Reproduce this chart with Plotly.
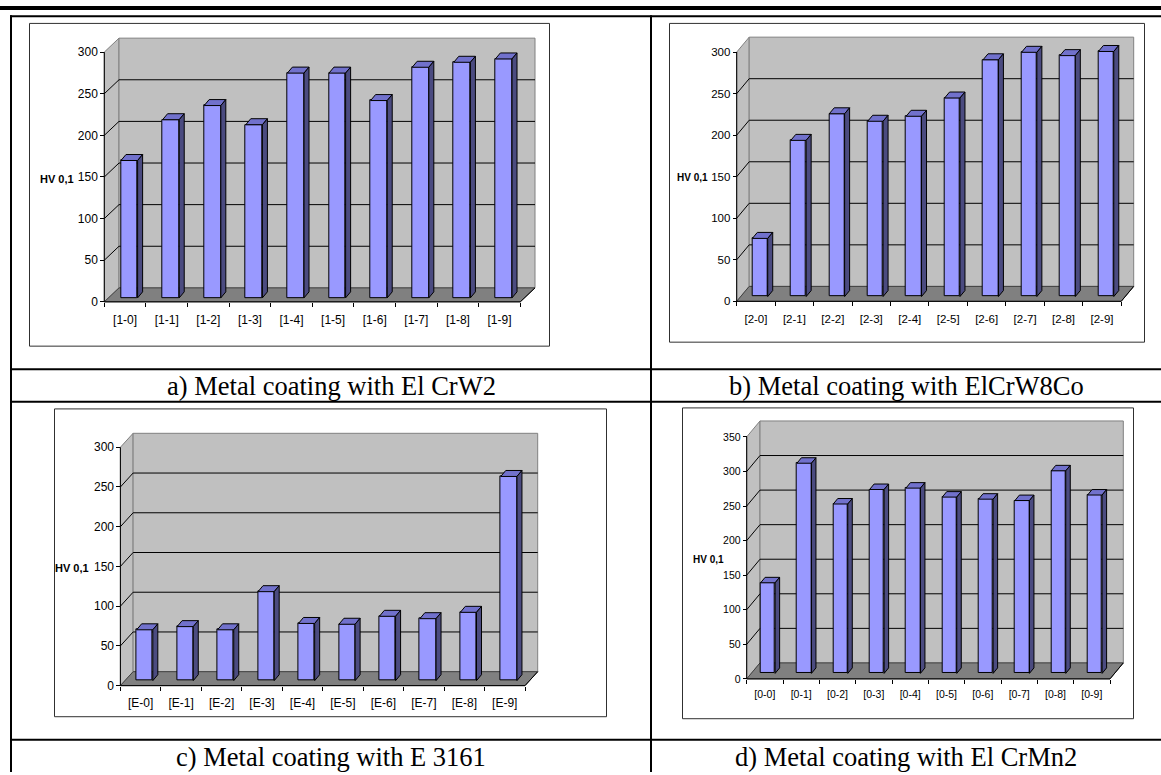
import numpy as np
import plotly.graph_objects as go

W, H = 1161, 775

# ---- data -------------------------------------------------------------
labels_a = ["[1-0]", "[1-1]", "[1-2]", "[1-3]", "[1-4]", "[1-5]", "[1-6]", "[1-7]", "[1-8]", "[1-9]"]
hv_a = [165, 214, 231, 208, 270, 270, 237, 277, 283, 287]

labels_b = ["[2-0]", "[2-1]", "[2-2]", "[2-3]", "[2-4]", "[2-5]", "[2-6]", "[2-7]", "[2-8]", "[2-9]"]
hv_b = [70, 188, 220, 211, 217, 239, 285, 294, 290, 295]

labels_c = ["[E-0]", "[E-1]", "[E-2]", "[E-3]", "[E-4]", "[E-5]", "[E-6]", "[E-7]", "[E-8]", "[E-9]"]
hv_c = [64, 68, 64, 112, 72, 71, 81, 78, 86, 257]

labels_d = ["[0-0]", "[0-1]", "[0-2]", "[0-3]", "[0-4]", "[0-5]", "[0-6]", "[0-7]", "[0-8]", "[0-9]"]
hv_d = [131, 304, 245, 266, 268, 255, 252, 250, 293, 258]

ticks_300 = [0, 50, 100, 150, 200, 250, 300]
ticks_350 = [0, 50, 100, 150, 200, 250, 300, 350]

captions = [
    "a) Metal coating with El CrW2",
    "b) Metal coating with ElCrW8Co",
    "c) Metal coating with E 3161",
    "d) Metal coating with El CrMn2",
]
value_title = "HV 0,1"

# ---- styling ----------------------------------------------------------
SANS = "Liberation Sans, Arial, sans-serif"
SERIF = "Liberation Serif, Times New Roman, serif"
FRONT = "#9999FF"
TOP = "#7171CC"
SIDE = "#4B4B80"
WALL = "#C0C0C0"
FLOOR = "#808080"
EDGE = "#808080"

# pixel geometry of each panel (front-left axis corner, category width,
# zero line, top tick, wall depth, bar offset inside the depth)
panels = [
    dict(labels=labels_a, values=hv_a, ticks=ticks_300, frame=(29, 23, 549, 347),
         axis_x=104.3, cat_w=41.6, base_y=303.0, top_y=52.3, depth=(14.7, 14.0),
         shift=(4.2, 4.0), bar_depth=(5.0, 6.0), fsize=12, tsize=11, xstand=9, title_at=(57, 180)),
    dict(labels=labels_b, values=hv_b, ticks=ticks_300, frame=(669, 23, 1144, 343),
         axis_x=736.7, cat_w=38.45, base_y=302.5, top_y=52.3, depth=(12.5, 15.0),
         shift=(4.1, 4.8), bar_depth=(5.0, 6.0), fsize=11.5, tsize=10, xstand=9, title_at=(693, 178)),
    dict(labels=labels_c, values=hv_c, ticks=ticks_300, frame=(54, 410, 606, 719),
         axis_x=120.4, cat_w=40.46, base_y=688.3, top_y=449.0, depth=(12.7, 14.0),
         shift=(4.1, 5.0), bar_depth=(5.0, 6.0), fsize=12, tsize=11, xstand=8, title_at=(72, 570)),
    dict(labels=labels_d, values=hv_d, ticks=ticks_350, frame=(682, 409, 1133, 721),
         axis_x=746.7, cat_w=36.33, base_y=681.5, top_y=438.6, depth=(13.3, 16.0),
         shift=(3.0, 5.5), bar_depth=(4.5, 5.5), fsize=10.5, tsize=10, xstand=8, title_at=(708, 562)),
]


def px(x):
    return x / W


def py(y):
    return 1 - y / H


fig = go.Figure()
shapes = []
annotations = []
layout_axes = {}
PAD = 4.0

for k, p in enumerate(panels):
    n = len(p["labels"])
    xa = "x" if k == 0 else f"x{k + 1}"
    ya = "y" if k == 0 else f"y{k + 1}"
    ymax = p["ticks"][-1]
    pxu = (p["base_y"] - p["top_y"]) / ymax
    cw = p["cat_w"]
    dxu = p["depth"][0] / cw
    dyu = p["depth"][1] / pxu
    left, right = -0.5, n - 0.5

    # axes: value units on y, category index on x
    x_range = [left - PAD / cw, right + dxu + PAD / cw]
    x_dom = [px(p["axis_x"] - PAD), px(p["axis_x"] + n * cw + p["depth"][0] + PAD)]
    y_range = [-PAD / pxu, ymax + dyu + PAD / pxu]
    y_dom = [py(p["base_y"] + PAD), py(p["top_y"] - p["depth"][1] - PAD)]

    layout_axes["xaxis" if k == 0 else f"xaxis{k + 1}"] = dict(
        domain=x_dom, range=x_range, anchor="free", position=py(p["base_y"]),
        showgrid=False, zeroline=False, showline=False,
        tickmode="array", tickvals=list(range(n)), ticktext=p["labels"],
        ticks="", ticklabelstandoff=p["xstand"],
        tickfont=dict(family=SANS, size=p["fsize"], color="black"),
        minor=dict(tickmode="array", tickvals=[left + i for i in range(n + 1)],
                   ticks="outside", ticklen=4, tickwidth=1, tickcolor="black"),
        fixedrange=True,
    )
    layout_axes["yaxis" if k == 0 else f"yaxis{k + 1}"] = dict(
        domain=y_dom, range=y_range, anchor="free", position=px(p["axis_x"]),
        showgrid=False, zeroline=False, showline=False,
        tickmode="array", tickvals=p["ticks"], ticks="outside", ticklen=4,
        tickwidth=1, tickcolor="black",
        tickfont=dict(family=SANS, size=p["fsize"], color="black"),
        fixedrange=True,
    )

    ref = dict(xref=xa, yref=ya, layer="below")
    # side wall, back wall, floor
    shapes.append(dict(type="path", **ref, fillcolor=WALL, line=dict(color=EDGE, width=1),
                       path=f"M{left},0 L{left + dxu},{dyu} L{left + dxu},{ymax + dyu} L{left},{ymax} Z"))
    shapes.append(dict(type="path", **ref, fillcolor=WALL, line=dict(color=EDGE, width=1),
                       path=f"M{left + dxu},{dyu} L{right + dxu},{dyu} L{right + dxu},{ymax + dyu} L{left + dxu},{ymax + dyu} Z"))
    shapes.append(dict(type="path", **ref, fillcolor=FLOOR, line=dict(color="#404040", width=1),
                       path=f"M{left},0 L{right},0 L{right + dxu},{dyu} L{left + dxu},{dyu} Z"))
    # gridlines on the side wall and back wall
    for t in p["ticks"][1:-1]:
        shapes.append(dict(type="line", **ref, x0=left, y0=t, x1=left + dxu, y1=t + dyu,
                           line=dict(color="black", width=1)))
        shapes.append(dict(type="line", **ref, x0=left + dxu, y0=t + dyu, x1=right + dxu, y1=t + dyu,
                           line=dict(color="black", width=1)))
    # front axis lines
    shapes.append(dict(type="line", **ref, x0=left, y0=0, x1=left, y1=ymax,
                       line=dict(color="black", width=1)))
    shapes.append(dict(type="line", **ref, x0=left, y0=0, x1=right, y1=0,
                       line=dict(color="black", width=1)))
    shapes.append(dict(type="line", **ref, x0=right, y0=0, x1=right + dxu, y1=dyu,
                       line=dict(color="black", width=1)))

    # bars: front faces through the bar trace, top and side faces as polygons
    bx = p["shift"][0] / cw
    by = p["shift"][1] / pxu
    bdx = p["bar_depth"][0] / cw
    bdy = p["bar_depth"][1] / pxu
    bw = 0.4
    xc = np.arange(n) + bx
    vals = np.asarray(p["values"], dtype=float)

    fig.add_trace(go.Bar(
        x=xc, y=vals, base=by, width=bw, xaxis=xa, yaxis=ya,
        marker=dict(color=FRONT, line=dict(color="black", width=1)),
        showlegend=False, hoverinfo="skip",
    ))

    top_x, top_y, side_x, side_y = [], [], [], []
    for xcen, v in zip(xc, vals):
        xl, xr = xcen - bw / 2, xcen + bw / 2
        yt = by + v
        top_x += [xl, xr, xr + bdx, xl + bdx, xl, None]
        top_y += [yt, yt, yt + bdy, yt + bdy, yt, None]
        side_x += [xr, xr + bdx, xr + bdx, xr, xr, None]
        side_y += [by, by + bdy, yt + bdy, yt, by, None]
    fig.add_trace(go.Scatter(x=top_x, y=top_y, mode="lines", fill="toself", fillcolor=TOP,
                             line=dict(color="black", width=1), xaxis=xa, yaxis=ya,
                             showlegend=False, hoverinfo="skip"))
    fig.add_trace(go.Scatter(x=side_x, y=side_y, mode="lines", fill="toself", fillcolor=SIDE,
                             line=dict(color="black", width=1), xaxis=xa, yaxis=ya,
                             showlegend=False, hoverinfo="skip"))

    # chart frame
    x0, y0, x1, y1 = p["frame"]
    shapes.append(dict(type="rect", xref="paper", yref="paper",
                       x0=px(x0 + 0.5), x1=px(x1 + 0.5), y0=py(y0 + 0.5), y1=py(y1 + 0.5),
                       line=dict(color="#303030", width=1), layer="below"))

    annotations.append(dict(x=px(p["title_at"][0]), y=py(p["title_at"][1]), xref="paper", yref="paper",
                            text=f"<b>{value_title}</b>", showarrow=False, xanchor="center", yanchor="middle",
                            font=dict(family=SANS, size=p["tsize"], color="black")))

# ---- table rules --------------------------------------------------------
def hline(y, x0, x1, w):
    shapes.append(dict(type="line", xref="paper", yref="paper", x0=px(x0), x1=px(x1),
                       y0=py(y), y1=py(y), line=dict(color="black", width=w), layer="above"))


def vline(x, y0, y1, w):
    shapes.append(dict(type="line", xref="paper", yref="paper", x0=px(x), x1=px(x),
                       y0=py(y0), y1=py(y1), line=dict(color="black", width=w), layer="above"))


hline(8, 0, W, 4)
hline(16.3, 10, W, 2)
vline(11, 15.3, H, 2)
vline(651, 15.3, H, 2)
hline(370.7, 10, W, 2)
hline(403.3, 10, W, 2)
hline(742.7, 10, W, 2)

caption_pos = [(331, 388), (906, 388), (331, 760), (906, 760)]
for text, (cx, cy) in zip(captions, caption_pos):
    annotations.append(dict(x=px(cx), y=py(cy), xref="paper", yref="paper", text=text,
                            showarrow=False, xanchor="center", yanchor="middle",
                            font=dict(family=SERIF, size=26.5, color="black")))

fig.update_layout(
    width=W, height=H, autosize=False,
    margin=dict(l=0, r=0, t=0, b=0),
    paper_bgcolor="white", plot_bgcolor="rgba(0,0,0,0)",
    showlegend=False, bargap=0,
    shapes=shapes, annotations=annotations,
    **layout_axes,
)

fig.write_html("out.html", config=dict(displayModeBar=False))
